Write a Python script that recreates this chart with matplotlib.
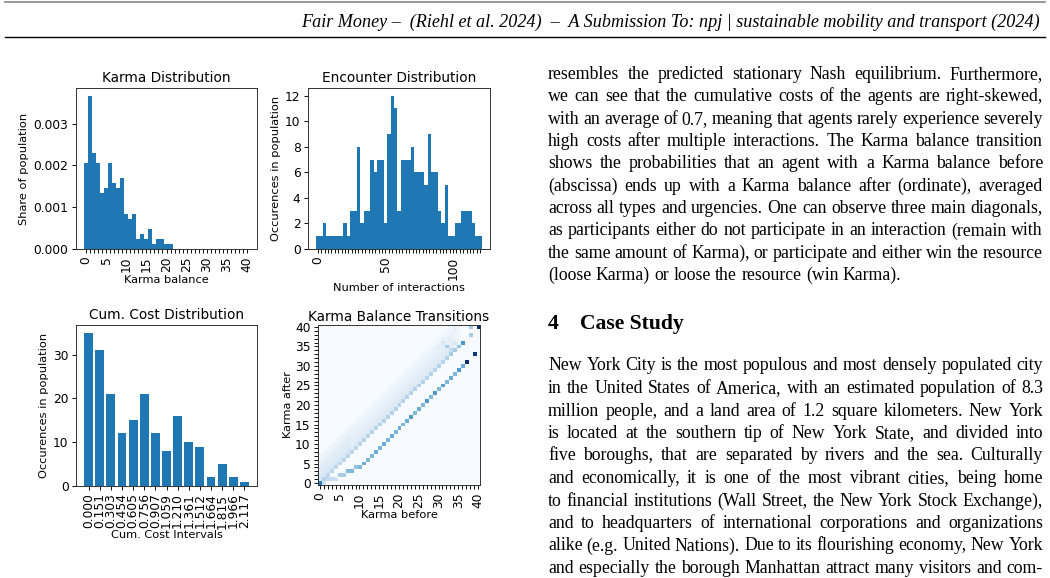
import numpy as np
import matplotlib
matplotlib.use("Agg")
import matplotlib.pyplot as plt
from matplotlib.lines import Line2D

W, H = 1050, 578

# Karma Distribution (share of population per karma balance)
karma_balance = list(range(22))
karma_share = [0.00206, 0.00367, 0.00230, 0.00206, 0.00134, 0.00146, 0.00206, 0.00158,
               0.00146, 0.00170, 0.00084, 0.00072, 0.00084, 0.00024, 0.00036, 0.00024,
               0.00048, 0.00012, 0.00024, 0.00024, 0.00012, 0.00012]

# Encounter Distribution (histogram, bins of 2.5 interactions starting at 0)
enc_bin_width = 2.5
enc_counts = [1, 1, 2, 1, 1, 1, 1, 1, 2, 1, 3, 3, 8, 2, 3, 3, 7, 6, 7, 7, 2, 9, 12, 11, 3,
              7, 7, 7, 8, 6, 6, 6, 5, 9, 6, 6, 3, 2, 5, 1, 1, 2, 2, 3, 3, 3, 2, 1, 1]

# Cum. Cost Distribution
cost_labels = ["0.000", "0.151", "0.303", "0.454", "0.605", "0.756", "0.907", "1.059",
               "1.210", "1.361", "1.512", "1.664", "1.815", "1.966", "2.117"]
cost_counts = [35, 31, 21, 12, 15, 21, 12, 8, 16, 10, 9, 2, 5, 2, 1]

# Karma Balance Transitions (41 x 41), given as diagonals
n_karma = 41
# win the resource -> pay karma: balance after, and probability, per balance before
win_after = [0, 0, 1, 1, 1, 2, 2, 3, 3, 4, 4, 5, 6, 7, 8, 9, 10, 11, 12, 13, 14, 15, 16,
             17, 18, 19, 20, 21, 22, 23, 24, 25, 26, 27, 28, 29, 30, 31, 32, 33, 34]
win_p = [0.0, 0.2, 0.25, 0.25, 0.2, 0.35, 0.35, 0.45, 0.45, 0.4, 0.45, 0.5, 0.45, 0.45,
         0.5, 0.45, 0.5, 0.45, 0.5, 0.45, 0.5, 0.45, 0.5, 0.58, 0.45, 0.5, 0.45, 0.6,
         0.45, 0.6, 0.45, 0.55, 0.45, 0.5, 0.45, 0.58, 0.5, 1.0, 0.0, 0.95, 0.0]
# no participation -> keep the same balance
stay_p = [0.7, 0.3, 0.28, 0.28, 0.28, 0.28, 0.28, 0.28, 0.28, 0.28, 0.28, 0.3, 0.3, 0.3,
          0.3, 0.3, 0.3, 0.3, 0.3, 0.3, 0.3, 0.3, 0.3, 0.3, 0.3, 0.3, 0.3, 0.3, 0.3, 0.3,
          0.3, 0.3, 0.32, 0.35, 0.35, 0.4, 0.6, 0.0, 0.35, 0.0, 1.0]
# lose the resource -> receive karma (faint band above the diagonal)
band_p = [1.2] * 8 + [1.0] * 26 + [0.6, 0.4, 0.0, 0.0, 0.0, 0.0, 0.0]
band_shape = [0.13, 0.11, 0.10, 0.08, 0.07, 0.05, 0.03]
extra_cells = [(32, 35, 0.35), (31, 36, 0.15), (33, 34, 0.25), (34, 36, 0.15),
               (30, 35, 0.12), (34, 39, 0.08), (34, 40, 0.08), (38, 40, 0.35)]

text_par1 = [
    "resembles the predicted stationary Nash equilibrium.  Furthermore,",
    "we can see that the cumulative costs of the agents are right-skewed,",
    "with an average of 0.7, meaning that agents rarely experience severely",
    "high costs after multiple interactions.  The Karma balance transition",
    "shows the probabilities that an agent with a Karma balance before",
    "(abscissa) ends up with a Karma balance after (ordinate), averaged",
    "across all types and urgencies. One can observe three main diagonals,",
    "as participants either do not participate in an interaction (remain with",
    "the same amount of Karma), or participate and either win the resource",
    "(loose Karma) or loose the resource (win Karma).",
]
text_par2 = [
    "New York City is the most populous and most densely populated city",
    "in the United States of America, with an estimated population of 8.3",
    "million people, and a land area of 1.2 square kilometers.  New York",
    "is located at the southern tip of New York State, and divided into",
    "five boroughs, that are separated by rivers and the sea.  Culturally",
    "and economically, it is one of the most vibrant cities, being home",
    "to financial institutions (Wall Street, the New York Stock Exchange),",
    "and to headquarters of international corporations and organizations",
    "alike (e.g. United Nations). Due to its flourishing economy, New York",
    "and especially the borough Manhattan attract many visitors and com-",
]

BLUE = "#1f77b4"
TICK = 8.8
LABEL = 8.2
TITLE = 9.8


def px_axes(fig, l, t, r, b):
    return fig.add_axes([l / W, 1 - b / H, (r - l) / W, (b - t) / H])


def style(ax):
    for s in ax.spines.values():
        s.set_linewidth(0.7)
        s.set_color("#333333")
    ax.tick_params(labelsize=TICK, length=2.9, width=0.66, pad=2.5)


fig = plt.figure(figsize=(W / 100, H / 100), dpi=100)

# --- Karma Distribution
ax1 = px_axes(fig, 76, 88, 257, 249)
ax1.bar(karma_balance, karma_share, width=1.0, color=BLUE, linewidth=0)
ax1.set_xlim(-2.55, 42.55)
ax1.set_ylim(0, max(karma_share) * 1.05)
ax1.set_xticks(range(41))
ax1.set_xticklabels([str(i) if i % 5 == 0 else "" for i in range(41)], rotation=90)
ax1.set_yticks([0, 0.001, 0.002, 0.003])
ax1.set_yticklabels(["0.000", "0.001", "0.002", "0.003"])
ax1.set_title("Karma Distribution", fontsize=TITLE, pad=4)
ax1.set_xlabel("Karma balance", fontsize=LABEL, labelpad=2)
ax1.set_ylabel("Share of population", fontsize=LABEL, labelpad=3)
style(ax1)

# --- Encounter Distribution
ax2 = px_axes(fig, 308, 88, 490, 249)
enc_centers = np.arange(len(enc_counts)) * enc_bin_width
ax2.bar(enc_centers, enc_counts, width=enc_bin_width, color=BLUE, linewidth=0)
ax2.set_xlim(-7.4, 127.4)
ax2.set_ylim(0, max(enc_counts) * 1.05)
ax2.set_xticks(enc_centers)
ax2.set_xticklabels([("%d" % c) if c % 50 == 0 else "" for c in enc_centers], rotation=90)
ax2.set_yticks(range(0, 13, 2))
ax2.set_title("Encounter Distribution", fontsize=TITLE, pad=4)
ax2.set_xlabel("Number of interactions", fontsize=LABEL, labelpad=2)
ax2.set_ylabel("Occurences in population", fontsize=LABEL, labelpad=3)
style(ax2)

# --- Cum. Cost Distribution
ax3 = px_axes(fig, 76, 325, 257, 486)
ax3.bar(range(len(cost_counts)), cost_counts, width=0.8, color=BLUE)
ax3.set_ylim(0, max(cost_counts) * 1.05)
ax3.set_xticks(range(len(cost_labels)))
ax3.set_xticklabels(cost_labels, rotation=90)
ax3.set_yticks([0, 10, 20, 30])
ax3.set_title("Cum. Cost Distribution", fontsize=TITLE, pad=4)
ax3.set_xlabel("Cum. Cost Intervals", fontsize=LABEL, labelpad=1)
ax3.set_ylabel("Occurences in population", fontsize=LABEL, labelpad=3)
style(ax3)

# --- Karma Balance Transitions
trans = np.zeros((n_karma, n_karma))
for before in range(n_karma):
    for k, w in enumerate(band_shape):
        after = before + k + 1
        if after < n_karma:
            trans[after, before] = band_p[before] * w
    trans[win_after[before], before] = max(trans[win_after[before], before], win_p[before])
    trans[before, before] = max(trans[before, before], stay_p[before])
for before, after, p in extra_cells:
    trans[after, before] = p

ax4 = px_axes(fig, 318, 325, 480, 485)
ax4.imshow(trans, cmap="Blues", origin="lower", vmin=0, vmax=1, aspect="auto",
           interpolation="nearest")
ax4.set_xticks(range(n_karma))
ax4.set_xticklabels([str(i) if i % 5 == 0 else "" for i in range(n_karma)], rotation=90)
ax4.set_yticks(range(n_karma))
ax4.set_yticklabels([str(i) if i % 5 == 0 else "" for i in range(n_karma)])
ax4.set_title("Karma Balance Transitions", fontsize=TITLE, pad=3)
ax4.set_xlabel("Karma before", fontsize=LABEL, labelpad=1)
ax4.set_ylabel("Karma after", fontsize=LABEL, labelpad=1)
style(ax4)

# --- page header
fig.add_artist(Line2D([5 / W, 1045 / W], [1 - 2 / H] * 2, color="#888888", lw=1.2))
fig.add_artist(Line2D([5 / W, 1045 / W], [1 - 37 / H] * 2, color="black", lw=1.0))
fig.text(1040 / W, 1 - 27 / H,
         "Fair Money \u2013  (Riehl et al. 2024)  \u2013  A Submission To: npj | "
         "sustainable mobility and transport (2024)",
         ha="right", va="baseline", family="Liberation Serif", style="italic",
         fontsize=13.1)

# --- body text (justified)
SERIF = "Liberation Serif"
BODY = 12.8
X0, X1 = 548, 1043
renderer = fig.canvas.get_renderer()


def justify(line, y, last=False):
    words = line.split()
    texts = [fig.text(0, 1 - y / H, w, ha="left", va="baseline", family=SERIF,
                      fontsize=BODY) for w in words]
    widths = [t.get_window_extent(renderer=renderer).width for t in texts]
    if last or len(words) == 1:
        gap = BODY * 0.25 * 100 / 72
    else:
        gap = (X1 - X0 - sum(widths)) / (len(words) - 1)
    x = X0
    for t, w in zip(texts, widths):
        t.set_x(x / W)
        x += w + gap


for i, line in enumerate(text_par1):
    justify(line, 79 + 22.35 * i, last=(i == len(text_par1) - 1))

fig.text(548 / W, 1 - 329 / H, "4", ha="left", va="baseline", family=SERIF,
         weight="bold", fontsize=15.6)
fig.text(580 / W, 1 - 329 / H, "Case Study", ha="left", va="baseline", family=SERIF,
         weight="bold", fontsize=15.6)

for i, line in enumerate(text_par2):
    justify(line, 370.5 + 22.5 * i)

fig.savefig("out.png", dpi=100)
